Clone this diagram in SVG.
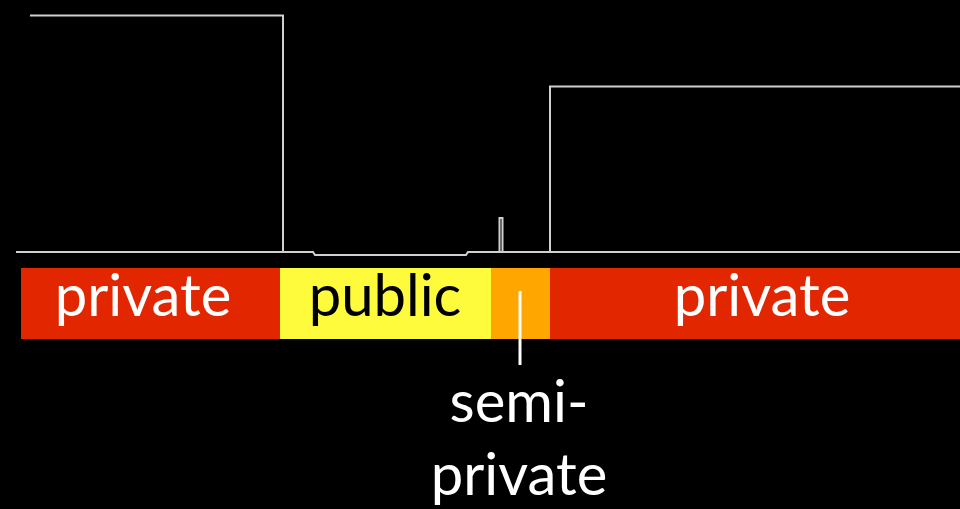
<svg xmlns="http://www.w3.org/2000/svg" width="960" height="509" viewBox="0 0 960 509">
<style>
.ln{fill:none;stroke:#d0d0d0;stroke-width:2}
.t{font-family:Lato,"Open Sans",sans-serif;font-size:58px;text-anchor:middle}
.w{fill:#ffffff}
.k{fill:#000000}
</style>
<rect width="960" height="509" fill="#000"/>
<g id="section">
<polyline class="ln" points="30,15.5 283,15.5 283,252"/>
<polyline class="ln" points="16,252 313,252 315,255 466,255 468,252 960,252"/>
<rect class="ln" x="499.5" y="218" width="3" height="34"/>
<polyline class="ln" points="550,252 550,86.5 960,86.5"/>
</g>
<g id="zone-private-left">
<rect x="21" y="268" width="260" height="71" fill="#e22600"/>
<text class="t w" x="143" y="316">private</text>
</g>
<g id="zone-public">
<rect x="280" y="268" width="211" height="71" fill="#fefa3c"/>
<text class="t k" x="385" y="316">public</text>
</g>
<g id="zone-semi-private">
<rect x="491" y="268" width="59" height="71" fill="#ffa600"/>
</g>
<g id="zone-private-right">
<rect x="550" y="268" width="410" height="71" fill="#e22600"/>
<text class="t w" x="762" y="316">private</text>
</g>
<g id="connectors">
<line x1="520" y1="291" x2="520" y2="365" stroke="#fff" stroke-width="3"/>
</g>
<g id="label-semi-private">
<text class="t w" x="519" y="422">semi-</text>
<text class="t w" x="519" y="495">private</text>
</g>
</svg>
